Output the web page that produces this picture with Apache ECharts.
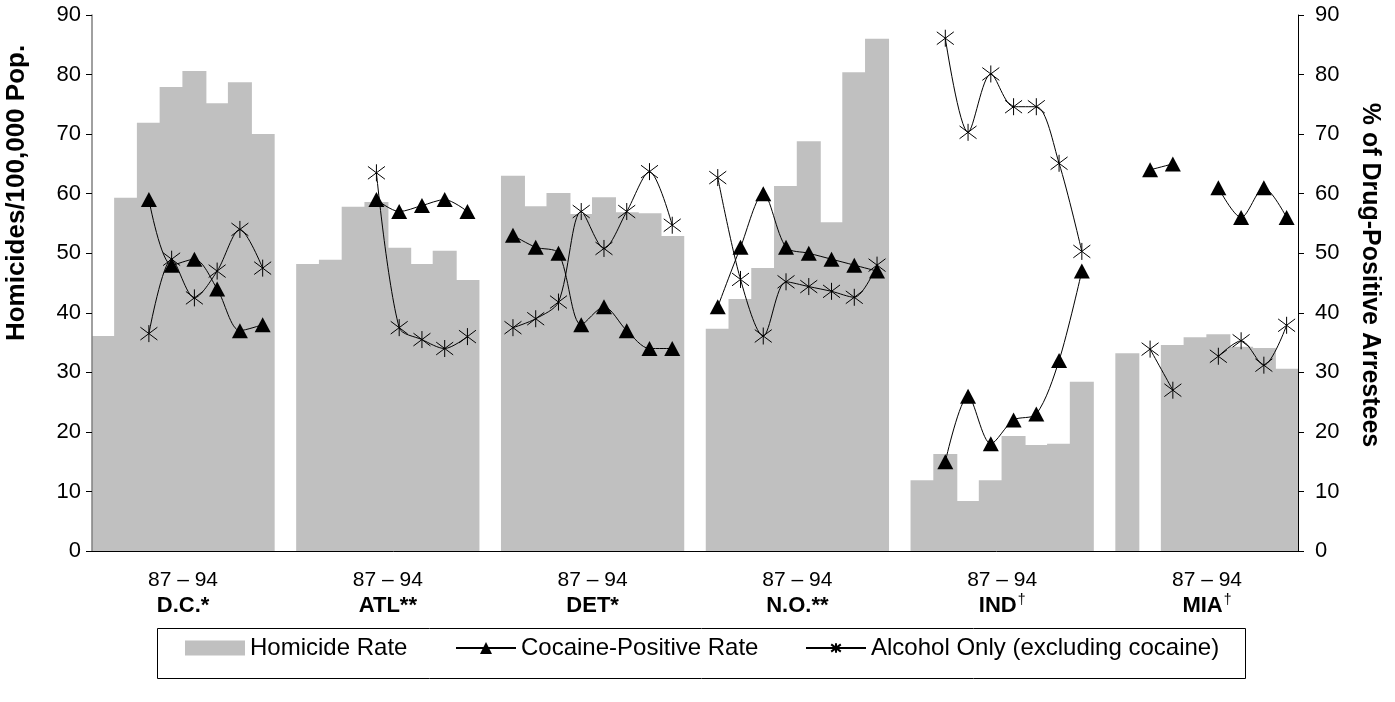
<!DOCTYPE html>
<html>
<head>
<meta charset="utf-8">
<script src="https://cdn.jsdelivr.net/npm/echarts@6/dist/echarts.min.js"></script>
<style>
html,body{margin:0;padding:0;background:#fff;}
#chart{width:1395px;height:702px;}
</style>
</head>
<body>
<div id="chart"></div>
<script>
// ---- data (years 87..94 per city) ----
var cities = ['D.C.*', 'ATL**', 'DET*', 'N.O.**', 'IND', 'MIA'];
var yearRangeLabel = '87 \u2013 94';
var yTicks = [0, 10, 20, 30, 40, 50, 60, 70, 80, 90];

var homDC  = [36.1, 59.3, 71.9, 77.9, 80.6, 75.2, 78.7, 70.0];
var homATL = [48.2, 48.9, 57.8, 58.6, 50.9, 48.2, 50.4, 45.5];
var homDET = [63.0, 57.9, 60.1, 56.6, 59.4, 56.9, 56.7, 52.9];
var homNO  = [37.3, 42.3, 47.5, 61.3, 68.8, 55.2, 80.4, 86.0];
var homIND = [11.9, 16.3, 8.4, 11.9, 19.3, 17.8, 18.0, 28.4];
var homMIA = [33.2, null, 34.6, 35.9, 36.4, 34.3, 34.1, 30.6];

var cocDC  = [null, null, 59, 48, 49, 44, 37, 38];
var cocATL = [null, null, null, 59, 57, 58, 59, 57];
var cocDET = [53, 51, 50, 38, 41, 37, 34, 34];
var cocNO  = [41, 51, 60, 51, 50, 49, 48, 47];
var cocIND = [null, 15, 26, 18, 22, 23, 32, 47];
var cocMIA = [null, 64, 65, null, 61, 56, 61, 56];

var alcDC  = [null, null, 36.5, 49, 42.5, 47, 54, 47.5];
var alcATL = [null, null, null, 63.5, 37.5, 35.5, 34, 36];
var alcDET = [37.5, 39, 41.8, 57, 50.8, 57, 63.7, 54.7];
var alcNO  = [62.7, 45.6, 36.1, 45.2, 44.4, 43.6, 42.6, 48];
var alcIND = [null, 86.1, 70.3, 80.1, 74.6, 74.6, 65.1, 50.3];
var alcMIA = [null, 33.9, 27, null, 32.7, 35.3, 31.2, 37.9];

// ---- build flat arrays with one empty slot between cities ----
function join(groups) {
  var out = [];
  groups.forEach(function (g, i) {
    if (i > 0) out.push(null);
    out = out.concat(g);
  });
  return out;
}
var homicide = join([homDC, homATL, homDET, homNO, homIND, homMIA]);
var cocaine  = join([cocDC, cocATL, cocDET, cocNO, cocIND, cocMIA]);
var alcohol  = join([alcDC, alcATL, alcDET, alcNO, alcIND, alcMIA]);
var cats = homicide.map(function (_, i) { return 'c' + i; });

// label axis: boundary points 0..53, group centers at 4, 13, 22, ...
var labelPts = [];
for (var i = 0; i <= cats.length; i++) labelPts.push('');
cities.forEach(function (c, k) { labelPts[4 + k * 9] = c; });

var FONT = 'Liberation Sans, Arial, sans-serif';
var starPath = 'path://M1,2L15,14M15,2L1,14M8,0L8,16';

var chart = echarts.init(document.getElementById('chart'), null, {renderer: 'canvas'});
chart.setOption({
  animation: false,
  backgroundColor: '#fff',
  textStyle: {fontFamily: FONT},
  grid: {left: 92, right: 97, top: 15, bottom: 151},
  xAxis: [{
    type: 'category',
    data: cats,
    boundaryGap: true,
    axisLine: {lineStyle: {color: '#000', width: 1}},
    axisTick: {interval: 0, length: 5, lineStyle: {color: '#000'}},
    axisLabel: {show: false},
    splitLine: {show: false},
    z: 5
  }, {
    type: 'category',
    data: labelPts,
    boundaryGap: false,
    position: 'bottom',
    axisLine: {show: false},
    axisTick: {show: false},
    splitLine: {show: false},
    axisLabel: {
      interval: 0,
      margin: 16,
      fontSize: 21,
      color: '#000',
      fontFamily: FONT,
      lineHeight: 26,
      formatter: function (v) {
        if (!v) return '';
        if (v === 'IND' || v === 'MIA') return yearRangeLabel + '\n{b|' + v + '}{s|\u2020}';
        return yearRangeLabel + '\n{b|' + v + '}';
      },
      rich: {
        b: {fontWeight: 'bold', fontSize: 22, fontFamily: FONT, color: '#000', lineHeight: 26},
        s: {fontSize: 14, fontFamily: FONT, color: '#000', verticalAlign: 'top', lineHeight: 26, padding: [0, 0, 8, 1]}
      }
    }
  }],
  yAxis: [{
    type: 'value', min: 0, max: 90, interval: 10,
    axisLine: {show: true, lineStyle: {color: '#808080', width: 1.5}},
    axisTick: {show: true, length: 6, lineStyle: {color: '#000'}},
    axisLabel: {fontSize: 22, color: '#000', margin: 11, fontFamily: FONT,
      formatter: function (v) { return yTicks.indexOf(v) >= 0 ? String(v) : ''; }},
    splitLine: {show: false},
    z: 5
  }, {
    type: 'value', min: 0, max: 90, interval: 10, position: 'right',
    axisLine: {show: true, lineStyle: {color: '#000', width: 1}},
    axisTick: {show: true, length: 6, lineStyle: {color: '#000'}},
    axisLabel: {fontSize: 22, color: '#000', margin: 17, fontFamily: FONT},
    splitLine: {show: false},
    z: 5
  }],
  legend: [{
    data: [{name: 'Homicide Rate', icon: 'rect'}],
    left: 185, top: 636, padding: 0, itemWidth: 60, itemHeight: 15,
    textStyle: {fontSize: 24, color: '#000', fontFamily: FONT}
  }, {
    data: ['Cocaine-Positive Rate'],
    left: 455, top: 636, padding: 0, itemWidth: 60, itemHeight: 15,
    textStyle: {fontSize: 24, color: '#000', fontFamily: FONT}
  }, {
    data: ['Alcohol Only (excluding cocaine)'],
    left: 805, top: 636, padding: 0, itemWidth: 60, itemHeight: 12,
    textStyle: {fontSize: 24, color: '#000', fontFamily: FONT}
  }],
  graphic: [{
    type: 'rect', left: 155, top: 626, z: 0,
    shape: {width: 1088, height: 50},
    style: {fill: 'none', stroke: '#000', lineWidth: 1}
  }, {
    type: 'text', x: 17, y: 193, rotation: Math.PI / 2,
    style: {text: 'Homicides/100,000 Pop.', font: 'bold 26px ' + FONT, fill: '#000',
      textAlign: 'center', textVerticalAlign: 'middle'}
  }, {
    type: 'text', x: 1370, y: 275, rotation: -Math.PI / 2,
    style: {text: '% of Drug-Positive Arrestees', font: 'bold 25px ' + FONT, fill: '#000',
      textAlign: 'center', textVerticalAlign: 'middle'}
  }],
  series: [{
    name: 'Homicide Rate',
    type: 'bar',
    data: homicide,
    xAxisIndex: 0, yAxisIndex: 0,
    barWidth: 24,
    barGap: '-100%',
    itemStyle: {color: '#c0c0c0'},
    z: 1
  }, {
    name: 'Cocaine-Positive Rate',
    type: 'line',
    data: cocaine,
    xAxisIndex: 0, yAxisIndex: 1,
    connectNulls: false,
    smooth: 0.3,
    symbol: 'triangle',
    symbolSize: [16, 15],
    showAllSymbol: true,
    lineStyle: {color: '#000', width: 1},
    itemStyle: {color: '#000'},
    z: 3
  }, {
    name: 'Alcohol Only (excluding cocaine)',
    type: 'line',
    data: alcohol,
    xAxisIndex: 0, yAxisIndex: 1,
    connectNulls: false,
    smooth: 0.3,
    symbol: starPath,
    symbolSize: 17,
    showAllSymbol: true,
    lineStyle: {color: '#000', width: 1},
    itemStyle: {color: 'rgba(0,0,0,0)', borderColor: '#000', borderWidth: 1},
    z: 4
  }]
});
</script>
</body>
</html>
